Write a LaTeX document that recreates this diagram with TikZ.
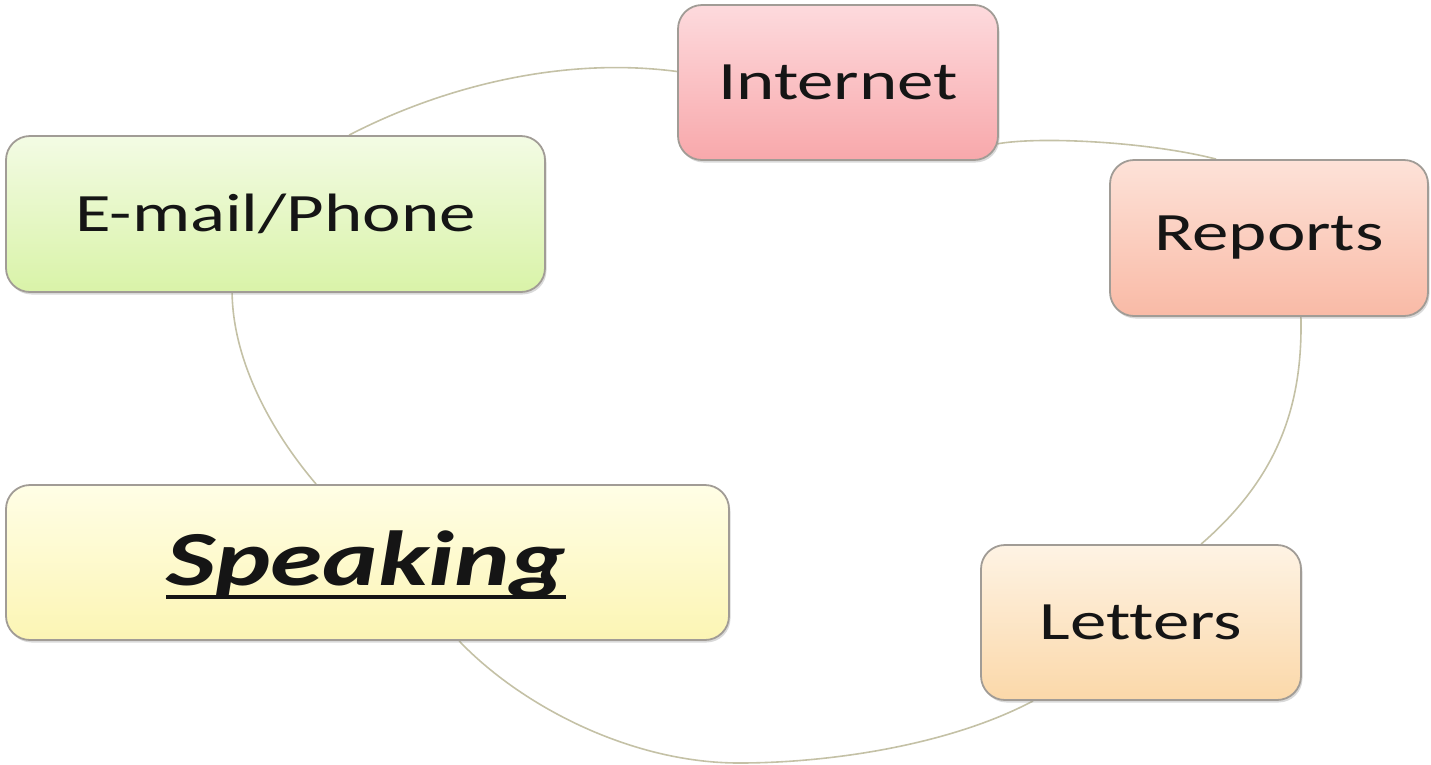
\documentclass[tikz,border=0pt]{standalone}
\usepackage{fontspec}
\setmainfont{Carlito}[FakeStretch=1.35, Ligatures={NoCommon}]
\usetikzlibrary{shadows,backgrounds,calc}
\definecolor{boxline}{HTML}{A19C96}
\definecolor{arccol}{HTML}{C4C1A6}
\definecolor{intTop}{HTML}{FDDADD}
\definecolor{intBot}{HTML}{F8A8AB}
\definecolor{repTop}{HTML}{FDE2D8}
\definecolor{repBot}{HTML}{F9BAA6}
\definecolor{letTop}{HTML}{FEF3E4}
\definecolor{letBot}{HTML}{FBD8A9}
\definecolor{spkTop}{HTML}{FFFEE6}
\definecolor{spkBot}{HTML}{FCF5B4}
\definecolor{emlTop}{HTML}{F3FBE4}
\definecolor{emlBot}{HTML}{D9F3A8}
\definecolor{txt}{HTML}{151515}
\begin{document}
\begin{tikzpicture}[x=1pt,y=-1pt,
  box/.style={draw=boxline, line width=1.8pt, rounded corners=24pt, inner sep=0pt,
    drop shadow={opacity=0.3, shadow xshift=1.5pt, shadow yshift=-2.5pt},
    font=\fontsize{54}{60}\selectfont, text=txt},
  arcline/.style={draw=arccol, line width=1.6pt}]
\useasboundingbox (0,0) rectangle (1431,764);

\node[box, top color=intTop, bottom color=intBot, minimum width=320pt, minimum height=155pt] (internet) at (838,82.5) {Internet};
\node[box, top color=repTop, bottom color=repBot, minimum width=318pt, minimum height=156pt] (reports) at (1269,238) {Reports};
\node[box, top color=letTop, bottom color=letBot, minimum width=320pt, minimum height=155pt] (letters) at (1141,622.5) {Letters};
\node[box, top color=spkTop, bottom color=spkBot, minimum width=723pt, minimum height=155pt] (speaking) at (367.5,562.5) {};
\node[box, top color=emlTop, bottom color=emlBot, minimum width=539pt, minimum height=156pt] (email) at (275.5,214) {E-mail/Phone};

\node[inner sep=0pt, anchor=base, text=txt, font=\fontsize{78}{86}\selectfont\bfseries\itshape] (sptext) at (366,585) {Speaking};
\draw[txt, line width=4pt] ([yshift=-12pt]sptext.base west) -- ([yshift=-12pt]sptext.base east);

\begin{pgfonlayer}{background}
\draw[arcline] ([xshift=344pt]email.north west) .. controls (440,88) and (560,56) .. ([yshift=11pt]internet.west);
\draw[arcline] ([xshift=-2pt,yshift=17pt]internet.south east) .. controls (1040,136) and (1150,142) .. ([xshift=107pt]reports.north west);
\draw[arcline] ([xshift=-128pt]reports.south east) .. controls (1303,410) and (1275,480) .. ([xshift=221pt]letters.north west);
\draw[arcline] ([xshift=53pt]letters.south west) .. controls (950,745) and (830,763) .. (739,763) .. controls (630,763) and (520,705) .. ([xshift=454pt]speaking.south west);
\draw[arcline] ([xshift=227pt]email.south west) .. controls (233,360) and (270,430) .. ([xshift=311pt]speaking.north west);
\end{pgfonlayer}
\end{tikzpicture}
\end{document}
